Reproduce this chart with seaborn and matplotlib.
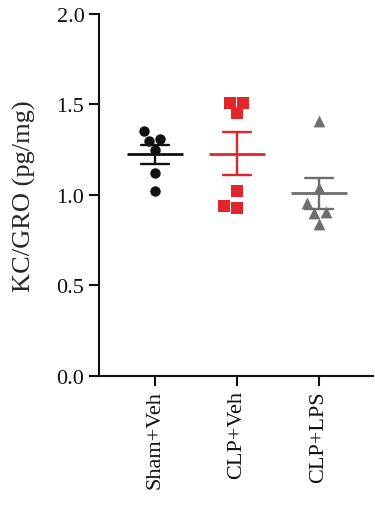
import pandas as pd
import matplotlib.pyplot as plt
import seaborn as sns

# Values
groups = ['Sham+Veh', 'CLP+Veh', 'CLP+LPS']
sham_veh = [1.31, 1.35, 1.30, 1.25, 1.12, 1.02]
clp_veh = [1.51, 1.51, 1.45, 1.02, 0.93, 0.94]
clp_lps = [1.41, 1.04, 0.955, 0.905, 0.90, 0.84]

colors = ['#111111', '#E2252B', '#6E6E6E']
markers = ['o', 's', '^']
sizes = [7.5, 9, 8.5]

y_ticks = [0.0, 0.5, 1.0, 1.5, 2.0]


def build_frame():
    rows = []
    for g, vals in zip(groups, [sham_veh, clp_veh, clp_lps]):
        for v in vals:
            rows.append({'group': g, 'value': v})
    return pd.DataFrame(rows)


def draw(df):
    sns.set_style('ticks')
    plt.rcParams['font.family'] = ['Liberation Serif', 'DejaVu Serif']
    fig = plt.figure(figsize=(3.75, 5.1), dpi=100)
    ax = fig.add_axes([0.264, 0.261, 0.731, 0.710])

    for g, c, m, s in zip(groups, colors, markers, sizes):
        sub = df[df['group'] == g]
        sns.swarmplot(data=sub, x='group', y='value', order=groups,
                      marker=m, color=c, size=s, linewidth=0, ax=ax)

    # mean +/- SEM
    sns.pointplot(data=df, x='group', y='value', order=groups, hue='group',
                  palette=colors, errorbar='se', capsize=0.34,
                  markers='_', markersize=40, markeredgewidth=2,
                  linestyle='none', err_kws={'linewidth': 1.7},
                  legend=False, ax=ax)

    ax.set_ylim(0, 2.0)
    ax.set_xlim(-0.68, 2.66)
    ax.set_yticks(y_ticks)
    ax.set_yticklabels([f'{t:.1f}' for t in y_ticks])
    ax.set_xlabel('')
    ax.set_ylabel('KC/GRO (pg/mg)', fontsize=19, labelpad=15)
    ax.tick_params(axis='both', labelsize=16, width=1.5, length=7,
                   color='#111111', labelcolor='#111111')
    ax.tick_params(axis='x', rotation=90)
    for side in ['left', 'bottom']:
        ax.spines[side].set_linewidth(1.5)
        ax.spines[side].set_color('#111111')
    sns.despine(ax=ax)

    fig.savefig('out.png', dpi=100)


if __name__ == '__main__':
    draw(build_frame())
